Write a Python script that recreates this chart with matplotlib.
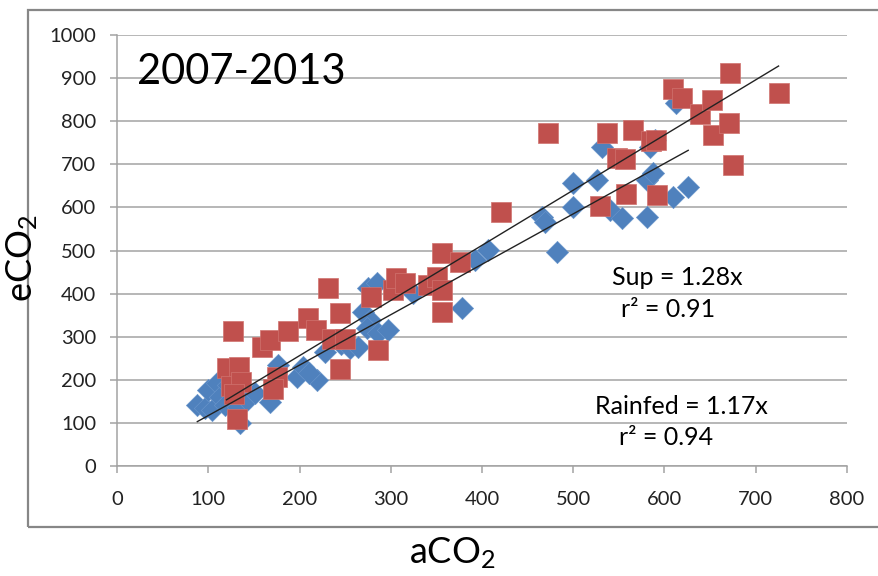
import matplotlib
matplotlib.use("Agg")
import matplotlib.pyplot as plt
import matplotlib.patches as mpatches
import numpy as np

# ---- data ----
rainfed_x = [88, 96, 100, 110, 104, 113, 118, 122, 133, 142, 151, 135, 168, 176, 197, 204,
             219, 210, 228, 245, 255, 264, 270, 277, 274, 286, 297, 275, 285, 324, 346, 378,
             392, 407, 466, 469, 482, 500, 500, 526, 532, 540, 553, 581, 581, 584, 587, 609,
             626, 613, 590]
rainfed_y = [142, 135, 176, 193, 130, 160, 142, 188, 137, 153, 169, 100, 149, 234, 207, 230,
             200, 215, 264, 283, 274, 276, 357, 339, 320, 308, 316, 413, 424, 401, 427, 367,
             478, 501, 578, 566, 497, 657, 601, 664, 740, 594, 575, 578, 664, 740, 680, 624,
             647, 843, 756]

sup_x = [127, 120, 134, 125, 136, 128, 131, 159, 168, 187, 175, 171, 209, 218, 231, 236,
         244, 244, 250, 278, 286, 302, 306, 316, 341, 351, 356, 356, 356, 376, 421, 472,
         529, 537, 548, 557, 558, 566, 585, 591, 592, 609, 619, 639, 652, 653, 672, 671,
         675, 725]
sup_y = [313, 228, 230, 185, 195, 168, 110, 276, 292, 313, 206, 178, 343, 316, 413, 295,
         355, 225, 295, 392, 269, 408, 437, 424, 420, 439, 494, 408, 357, 473, 589, 773,
         603, 773, 715, 712, 631, 780, 754, 756, 629, 875, 854, 817, 849, 768, 912, 796,
         698, 865]

sup_slope = 1.28
rainfed_slope = 1.17
x_ticks = [0, 100, 200, 300, 400, 500, 600, 700, 800]
y_ticks = [0, 100, 200, 300, 400, 500, 600, 700, 800, 900, 1000]

BLUE = "#4F81BD"
RED = "#C0504D"
GRID = "#A3A3A3"
TXT_FONT = ["Lato", "DejaVu Sans"]
TICK_FONT = ["Liberation Sans Narrow", "Lato", "DejaVu Sans"]

plt.rcParams["mathtext.default"] = "regular"
plt.rcParams["font.family"] = TXT_FONT

fig = plt.figure(figsize=(8.79, 5.76), dpi=100)
ax = fig.add_axes([117 / 879, 1 - 466 / 576, 730 / 879, 431 / 576])

# chart-area border
border = mpatches.Rectangle((28 / 879, 1 - 527 / 576), 1.2, 517 / 576,
                            transform=fig.transFigure, fill=False,
                            edgecolor="#878787", linewidth=1.6, zorder=0)
fig.patches.append(border)

ax.scatter(rainfed_x, rainfed_y, marker="D", s=11.4 ** 2, color=BLUE,
           edgecolors="#6A96CC", linewidths=0.4, zorder=3)
ax.scatter(sup_x, sup_y, marker="s", s=14.2 ** 2, color=RED,
           edgecolors="#D0736F", linewidths=0.5, zorder=4)

# trend lines through origin
sx = np.array([min(sup_x), max(sup_x)])
rx = np.array([min(rainfed_x), max(rainfed_x)])
ax.plot(sx, sup_slope * sx, color="#222222", lw=1.0, zorder=5)
ax.plot(rx, rainfed_slope * rx, color="#222222", lw=1.0, zorder=5)

ax.set_xlim(0, 800)
ax.set_ylim(0, 1000)
ax.set_xticks(x_ticks)
ax.set_yticks(y_ticks)
ax.grid(axis="y", color=GRID, lw=1.1, zorder=1)
ax.set_axisbelow(True)
for s in ["top", "right"]:
    ax.spines[s].set_visible(False)
for s in ["left", "bottom"]:
    ax.spines[s].set_color(GRID)
    ax.spines[s].set_linewidth(1.1)
ax.tick_params(axis="both", colors=GRID, length=5, width=1.1)
ax.tick_params(axis="x", pad=13)
ax.tick_params(axis="y", pad=10)
for lab in ax.get_xticklabels() + ax.get_yticklabels():
    lab.set_color("#222222")
    lab.set_family(TICK_FONT)
    lab.set_fontsize(14.5)

ax.text(22, 914, "2007-2013", fontsize=30, ha="left", va="center", color="black")
ax.text(614, 438, "Sup = 1.28x", fontsize=18, ha="center", va="center")
ax.text(604, 362, "r² = 0.91", fontsize=18, ha="center", va="center")
ax.text(619, 137, "Rainfed = 1.17x", fontsize=18, ha="center", va="center")
ax.text(602, 65, "r² = 0.94", fontsize=18, ha="center", va="center")

fig.text(22 / 879, 1 - 258 / 576, "eCO$_2$", rotation=90, fontsize=26,
         ha="center", va="center")
fig.text(452 / 879, 1 - 553 / 576, "aCO$_2$", fontsize=26, ha="center", va="center")

fig.savefig("out.png", dpi=100)
